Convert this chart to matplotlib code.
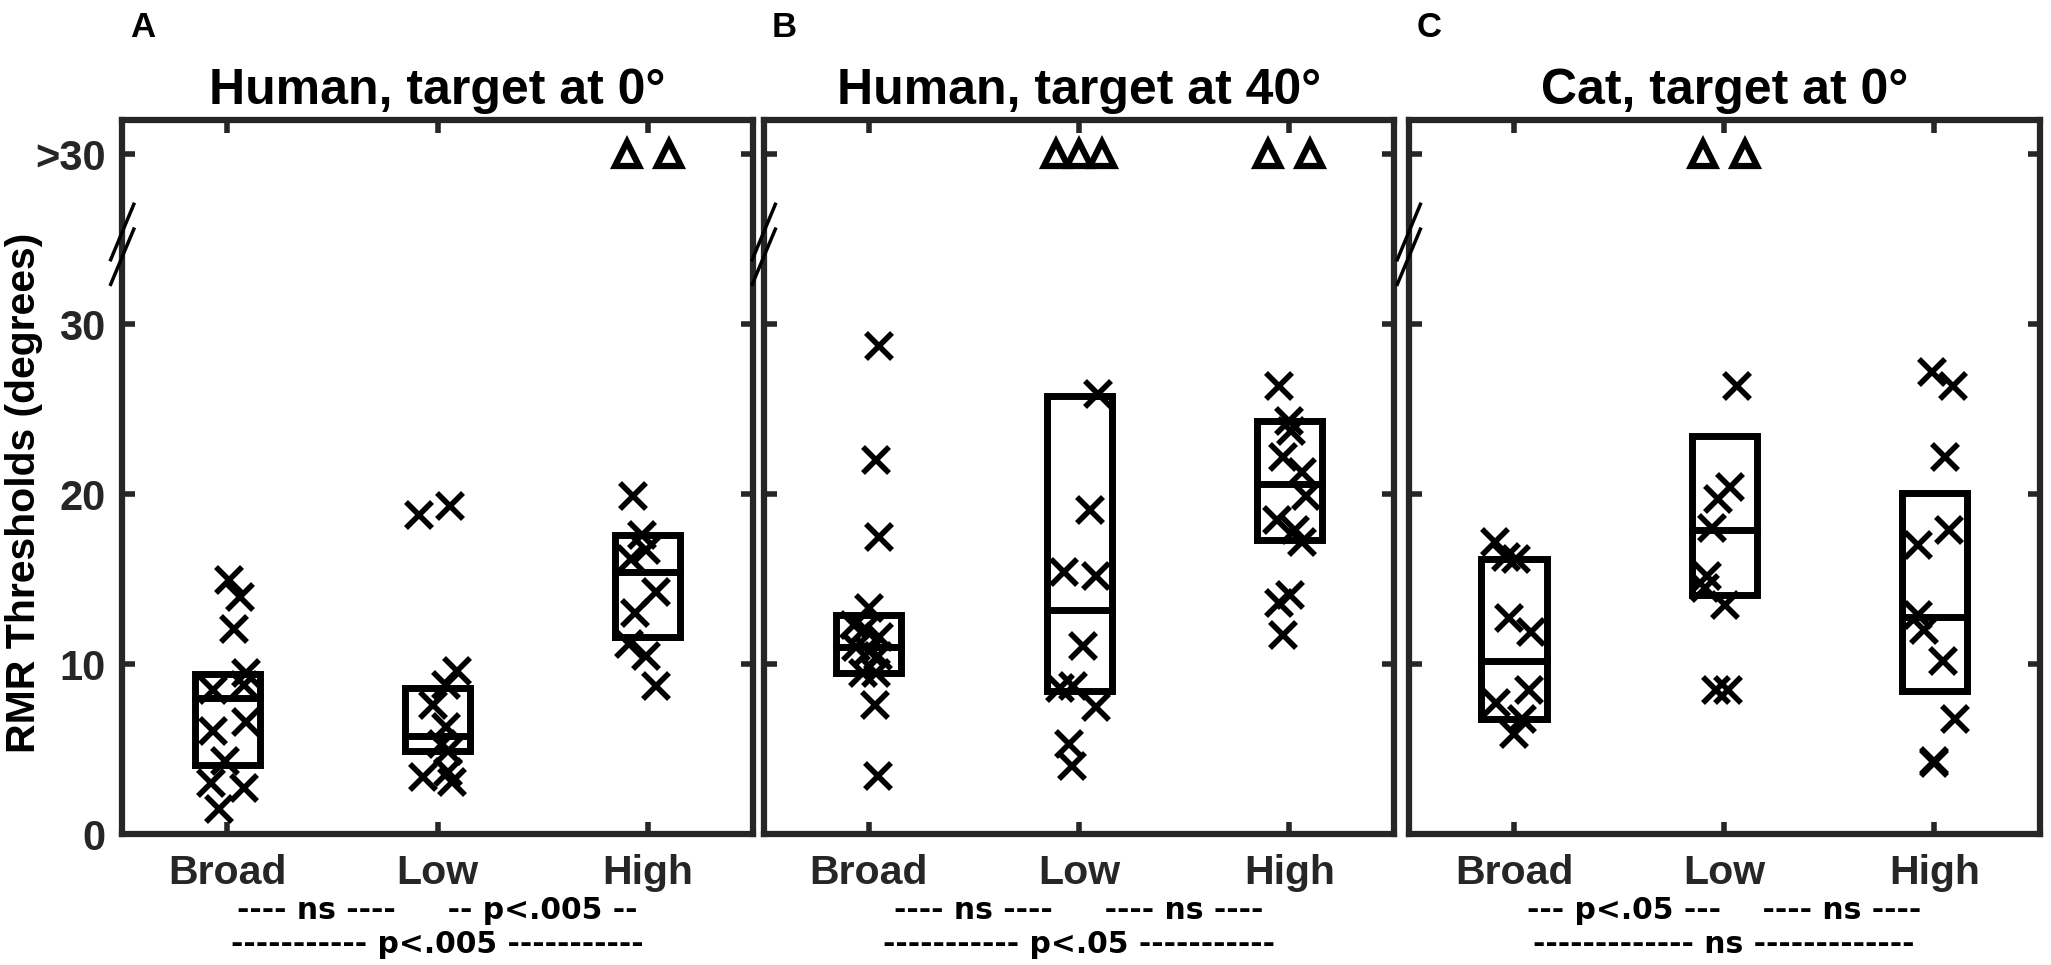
import matplotlib
matplotlib.use("Agg")
import matplotlib.pyplot as plt
import numpy as np

plt.rcParams['font.family'] = ['Liberation Sans', 'DejaVu Sans']
plt.rcParams['font.weight'] = 'bold'

# ---------------- data ----------------
categories = ["Broad", "Low", "High"]
titles = ["Human, target at 0°", "Human, target at 40°", "Cat, target at 0°"]
panel_letters = ["A", "B", "C"]
ytick_values = [0, 10, 20, 30, 40]
ytick_labels = ["0", "10", "20", "30", ">30"]
sig_row1 = ["---- ns ----     -- p<.005 --",
            "---- ns ----     ---- ns ----",
            "--- p<.05 ---    ---- ns ----"]
sig_row2 = ["----------- p<.005 -----------",
            "----------- p<.05 -----------",
            "------------- ns -------------"]

# Panel A: Human, target at 0 deg
A_broad_y = [14.95, 13.96, 12.08, 9.5, 8.8, 8.5, 6.6, 6.1, 4.3, 3.0, 2.7, 1.5]
A_broad_dx = [0.01, 0.06, 0.03, 0.09, 0.08, -0.07, 0.09, -0.07, -0.01, -0.08, 0.08, -0.04]
A_low_y = [18.8, 19.3, 9.6, 8.8, 7.6, 6.3, 5.3, 4.9, 3.66, 3.37, 3.07]
A_low_dx = [-0.09, 0.06, 0.09, 0.04, -0.02, 0.04, 0.02, 0.05, 0.05, -0.07, 0.07]
A_high_y = [19.9, 17.6, 16.7, 16.2, 14.26, 13.0, 11.2, 10.5, 8.7]
A_high_dx = [-0.07, -0.03, -0.01, -0.08, 0.04, -0.06, -0.09, -0.01, 0.04]
A_box_q1 = [4.1, 4.9, 11.6]
A_box_med = [8.0, 5.8, 15.4]
A_box_q3 = [9.4, 8.6, 17.6]
A_over_cat = [3, 3]
A_over_dx = [-0.1, 0.1]

# Panel B: Human, target at 40 deg
B_broad_y = [28.7, 22.0, 17.5, 13.3, 12.3, 12.1, 11.6, 11.0, 10.8, 10.5, 9.5, 9.5, 7.6, 3.4]
B_broad_dx = [0.05, 0.035, 0.05, 0.0, -0.07, -0.02, 0.05, -0.06, 0.0, 0.045, -0.03, 0.035, 0.03, 0.045]
B_low_y = [25.9, 19.1, 15.4, 15.2, 11.06, 8.6, 8.7, 7.5, 5.3, 4.0]
B_low_dx = [0.09, 0.05, -0.07, 0.08, 0.02, -0.09, -0.03, 0.08, -0.05, -0.035]
B_high_y = [26.4, 24.3, 23.7, 22.2, 21.3, 19.9, 18.5, 17.9, 17.2, 14.1, 13.6, 11.7]
B_high_dx = [-0.05, 0.0, 0.01, -0.03, 0.06, 0.08, -0.06, 0.025, 0.06, 0.005, -0.05, -0.03]
B_box_q1 = [9.5, 8.4, 17.3]
B_box_med = [11.0, 13.2, 20.6]
B_box_q3 = [12.9, 25.8, 24.3]
B_over_cat = [2, 2, 2, 3, 3]
B_over_dx = [-0.11, 0.0, 0.11, -0.1, 0.1]

# Panel C: Cat, target at 0 deg
C_broad_y = [17.2, 16.3, 16.2, 12.7, 11.9, 8.5, 7.7, 6.8, 5.9]
C_broad_dx = [-0.09, -0.04, 0.01, -0.025, 0.08, 0.07, -0.085, 0.04, 0.0]
C_low_y = [26.4, 20.4, 19.7, 18.0, 15.2, 14.5, 13.5, 8.5, 8.5]
C_low_dx = [0.06, 0.03, -0.03, -0.06, -0.08, -0.09, 0.005, -0.04, 0.02]
C_high_y = [27.2, 26.4, 22.2, 17.9, 17.0, 12.9, 12.0, 10.2, 6.8, 4.3, 4.2]
C_high_dx = [-0.01, 0.09, 0.05, 0.07, -0.08, -0.08, -0.05, 0.04, 0.1, 0.0, 0.0]
C_box_q1 = [6.8, 14.1, 8.4]
C_box_med = [10.2, 17.9, 12.8]
C_box_q3 = [16.2, 23.4, 20.06]
C_over_cat = [2, 2]
C_over_dx = [-0.1, 0.1]

over_value = 40  # plotted position of ">30"

panels = [
    dict(ys=[A_broad_y, A_low_y, A_high_y], dxs=[A_broad_dx, A_low_dx, A_high_dx],
         q1=A_box_q1, med=A_box_med, q3=A_box_q3, oc=A_over_cat, od=A_over_dx),
    dict(ys=[B_broad_y, B_low_y, B_high_y], dxs=[B_broad_dx, B_low_dx, B_high_dx],
         q1=B_box_q1, med=B_box_med, q3=B_box_q3, oc=B_over_cat, od=B_over_dx),
    dict(ys=[C_broad_y, C_low_y, C_high_y], dxs=[C_broad_dx, C_low_dx, C_high_dx],
         q1=C_box_q1, med=C_box_med, q3=C_box_q3, oc=C_over_cat, od=C_over_dx),
]

# ---------------- figure ----------------
fig = plt.figure(figsize=(20.51, 9.65), dpi=100)
spine_col = '#262626'
lefts = [0.0596, 0.3724, 0.6869]
width = 0.3075
bottom = 0.1355
height = 0.7398
box_half = 0.155

for i, p in enumerate(panels):
    ax = fig.add_axes([lefts[i], bottom, width, height])
    xlim = (0.5, 3.5)
    ax.set_xlim(*xlim)
    ax.set_ylim(0, 42)
    for c in range(3):
        xc = c + 1
        q1, md, q3 = p['q1'][c], p['med'][c], p['q3'][c]
        ax.plot([xc - box_half, xc + box_half, xc + box_half, xc - box_half, xc - box_half],
                [q1, q1, q3, q3, q1], color='black', lw=5, solid_joinstyle='miter', zorder=3)
        ax.plot([xc - box_half, xc + box_half], [md, md], color='black', lw=5, zorder=3)
        xs = xc + np.array(p['dxs'][c])
        ax.plot(xs, p['ys'][c], linestyle='none', marker='x', color='black',
                markersize=19, markeredgewidth=4, zorder=4)
    ox = np.array(p['oc']) + np.array(p['od'])
    ax.plot(ox, [over_value] * len(ox), linestyle='none', marker='^', markerfacecolor='white',
            markeredgecolor='black', markersize=17, markeredgewidth=4.5, zorder=4, clip_on=False)

    ax.set_xticks([1, 2, 3])
    ax.set_xticklabels(categories, fontsize=29.5, fontweight='bold', color=spine_col)
    ax.set_yticks(ytick_values)
    if i == 0:
        ax.set_yticklabels(ytick_labels, fontsize=30, fontweight='bold', color=spine_col)
    else:
        ax.set_yticklabels([])
    ax.tick_params(direction='in', length=9, width=4, color=spine_col,
                   top=True, right=True)
    ax.tick_params(axis='x', pad=14)
    ax.tick_params(axis='y', pad=12)
    for s in ax.spines.values():
        s.set_linewidth(4.5)
        s.set_color(spine_col)
    ax.set_title(titles[i], fontsize=36, fontweight='bold', pad=12)

    # axis break marks
    x0 = xlim[0]
    for (ytop, ybot) in [(37.06, 33.8), (35.6, 32.35)]:
        ax.plot([x0 + 0.055, x0 - 0.055], [ytop, ybot], color='black', lw=2.5,
                clip_on=False, zorder=5)

    # significance text
    ax.text(2, -5.0, sig_row1[i], ha='center', va='baseline', fontsize=21.5,
            fontweight='bold', color='black', family='DejaVu Sans')
    ax.text(2, -6.98, sig_row2[i], ha='center', va='baseline', fontsize=21.5,
            fontweight='bold', color='black', family='DejaVu Sans')

    fig.text(lefts[i] + 0.004, 0.972, panel_letters[i], fontsize=25, fontweight='bold',
             ha='left', va='center')

fig.text(0.0115, 0.489, "RMR Thresholds (degrees)", rotation=90, fontsize=29.5,
         fontweight='bold', ha='center', va='center', color='black')

fig.savefig("out.png", dpi=100, facecolor='white')
